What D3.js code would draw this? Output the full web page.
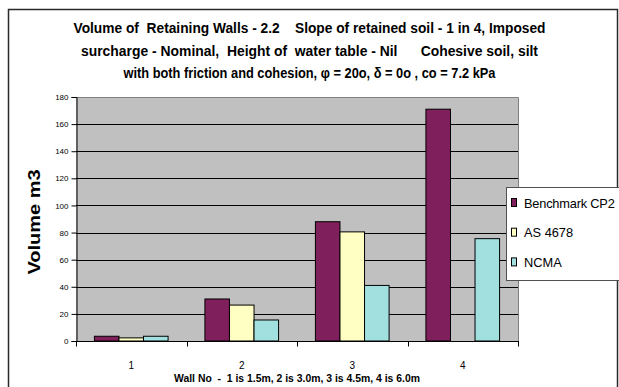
<!DOCTYPE html>
<html>
<head>
<meta charset="utf-8">
<script src="https://cdn.jsdelivr.net/npm/d3@7"></script>
<style>
  html, body { margin: 0; padding: 0; background: #fff; }
  svg { display: block; font-family: "Liberation Sans", Arial, sans-serif; }
  svg text { white-space: pre; }
</style>
</head>
<body>
<svg id="chart" width="619" height="387"></svg>
<script>
// Wall numbers along the x axis
const walls = ["1", "2", "3", "4"];
// Design methods compared
const methods = ["Benchmark CP2", "AS 4678", "NCMA"];
// Volume (m3) per wall for each method; null = no result
const benchmarkCP2 = [3.5, 31, 88, 171];
const as4678 = [2.3, 26.5, 80.5, null];
const ncma = [3.5, 15.5, 41, 75.5];
// Y axis ticks
const yTicks = [0, 20, 40, 60, 80, 100, 120, 140, 160, 180];

const titleLines = [
  "Volume of  Retaining Walls - 2.2    Slope of retained soil - 1 in 4, Imposed",
  "surcharge - Nominal,  Height of  water table - Nil      Cohesive soil, silt",
  "with both friction and cohesion, \u03C6 = 20o, \u03B4 = 0o , co = 7.2 kPa"
];
const titleWidths = [472, 457, 372];
const xTitle = "Wall No  -  1 is 1.5m, 2 is 3.0m, 3 is 4.5m, 4 is 6.0m";
const yTitle = "Volume m3";

const seriesValues = [benchmarkCP2, as4678, ncma];
const colors = ["#7F1F5C", "#FFFFC4", "#A2E0E0"];

const svg = d3.select("#chart");

// Outer chart frame
svg.append("rect")
  .attr("x", 8.5).attr("y", 9.5)
  .attr("width", 609).attr("height", 400)
  .attr("fill", "#fff")
  .attr("stroke", "#2a2a2a").attr("stroke-width", 1.5);

// Plot area bounds
const pLeft = 76, pRight = 518, pTop = 97, pBottom = 341;

const x = d3.scaleBand().domain(walls).range([pLeft, pRight]).padding(0);
const xs = d3.scaleBand().domain(methods).range([0, x.bandwidth()])
  .paddingInner(0).paddingOuter(0.75);
const y = d3.scaleLinear().domain([0, 180]).range([pBottom, pTop]);

// Plot background
svg.append("rect")
  .attr("x", pLeft).attr("y", pTop)
  .attr("width", pRight - pLeft).attr("height", pBottom - pTop)
  .attr("fill", "#C0C0C0");

// Gridlines
svg.append("g")
  .selectAll("line")
  .data(yTicks.filter(t => t > 0 && t < 180))
  .join("line")
  .attr("x1", pLeft).attr("x2", pRight)
  .attr("y1", d => Math.round(y(d)) + 0.5).attr("y2", d => Math.round(y(d)) + 0.5)
  .attr("stroke", "#000").attr("stroke-width", 1);

// Plot border (top and right)
svg.append("path")
  .attr("d", `M${pLeft},${pTop + 0.5}H${pRight + 0.5}V${pBottom}`)
  .attr("fill", "none").attr("stroke", "#808080").attr("stroke-width", 1);

// Bars
const barData = [];
walls.forEach((w, i) => {
  methods.forEach((m, j) => {
    const v = seriesValues[j][i];
    if (v !== null) barData.push({ wall: w, method: m, value: v, color: colors[j] });
  });
});
svg.append("g")
  .selectAll("rect")
  .data(barData)
  .join("rect")
  .attr("x", d => x(d.wall) + xs(d.method))
  .attr("y", d => y(d.value))
  .attr("width", xs.bandwidth())
  .attr("height", d => y(0) - y(d.value))
  .attr("fill", d => d.color)
  .attr("stroke", "#000").attr("stroke-width", 1);

// Y axis
const yAxis = svg.append("g")
  .attr("transform", `translate(${pLeft + 0.5},0)`)
  .call(d3.axisLeft(y).tickValues(yTicks).tickSize(5).tickPadding(3).tickFormat(d3.format("d")));
yAxis.select(".domain").attr("stroke", "#000");
yAxis.selectAll(".tick line").attr("stroke", "#000");
yAxis.selectAll("text").attr("font-size", 8).attr("fill", "#000")
  .attr("font-family", "Liberation Sans, Arial, sans-serif");

// X axis: tick marks at category boundaries, labels at centres
const xAxisG = svg.append("g").attr("transform", `translate(0,${pBottom + 0.5})`);
xAxisG.append("line")
  .attr("x1", pLeft).attr("x2", pRight + 1)
  .attr("stroke", "#000");
const bounds = walls.map(w => x(w)).concat([pRight]);
xAxisG.selectAll(".bt").data(bounds).join("line")
  .attr("class", "bt")
  .attr("x1", d => Math.round(d) + 0.5).attr("x2", d => Math.round(d) + 0.5)
  .attr("y1", 0).attr("y2", 5)
  .attr("stroke", "#000");
xAxisG.selectAll("text").data(walls).join("text")
  .attr("x", d => x(d) + x.bandwidth() / 2)
  .attr("y", 27)
  .attr("text-anchor", "middle")
  .attr("font-size", 10)
  .text(d => d);

// Titles
svg.append("g").selectAll("text").data(titleLines).join("text")
  .attr("x", 309.5)
  .attr("y", (d, i) => 33 + i * 22.5)
  .attr("text-anchor", "middle")
  .attr("font-size", 14)
  .attr("font-weight", "bold")
  .attr("textLength", (d, i) => titleWidths[i])
  .attr("lengthAdjust", "spacingAndGlyphs")
  .text(d => d);

svg.append("text")
  .attr("x", 297).attr("y", 382)
  .attr("text-anchor", "middle")
  .attr("font-size", 10)
  .attr("font-weight", "bold")
  .attr("textLength", 246)
  .attr("lengthAdjust", "spacingAndGlyphs")
  .text(xTitle);

svg.append("text")
  .attr("transform", `translate(40,${(pTop + pBottom) / 2 + 3}) rotate(-90)`)
  .attr("text-anchor", "middle")
  .attr("font-size", 17)
  .attr("font-weight", "bold")
  .attr("textLength", 105)
  .attr("lengthAdjust", "spacingAndGlyphs")
  .text(yTitle);

// Legend
const legend = svg.append("g");
legend.append("rect")
  .attr("x", 506.5).attr("y", 187.5)
  .attr("width", 140).attr("height", 93)
  .attr("fill", "#fff")
  .attr("stroke", "#505050").attr("stroke-width", 1);
const legendRows = legend.selectAll("g.row").data(methods).join("g")
  .attr("class", "row")
  .attr("transform", (d, i) => `translate(0,${202.5 + i * 29.7})`);
legendRows.append("rect")
  .attr("x", 511.5).attr("y", -4)
  .attr("width", 5).attr("height", 8)
  .attr("fill", (d, i) => colors[i])
  .attr("stroke", "#000").attr("stroke-width", 1);
legendRows.append("text")
  .attr("x", 524).attr("y", 5)
  .attr("font-size", 12.8)
  .attr("letter-spacing", (d, i) => i === 0 ? -0.2 : 0)
  .text(d => d);
</script>
</body>
</html>
